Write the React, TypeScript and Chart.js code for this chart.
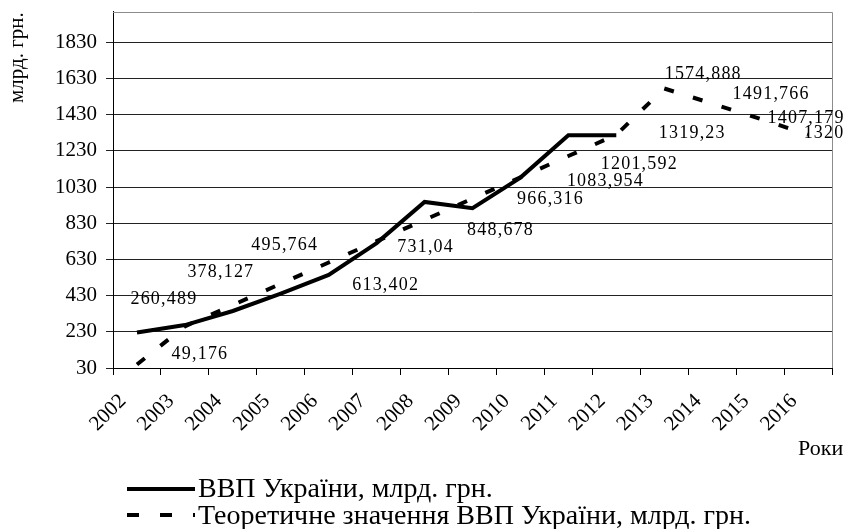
import React, { useEffect, useRef } from 'react';
import { Chart, registerables } from 'chart.js';

Chart.register(...registerables);

const years = ['2002', '2003', '2004', '2005', '2006', '2007', '2008', '2009', '2010', '2011', '2012', '2013', '2014', '2015', '2016'];
const gdpActual = [225.8, 267.3, 345.1, 441.5, 544.2, 720.7, 948.1, 913.3, 1082.6, 1316.6, 1316.6, null, null, null, null];
const gdpTheoretical = [49.176, 260.489, 378.127, 495.764, 613.402, 731.04, 848.678, 966.316, 1083.954, 1201.592, 1319.23, 1574.888, 1491.766, 1407.179, 1320];
const yTicks = [30, 230, 430, 630, 830, 1030, 1230, 1430, 1630, 1830];
const yMin = 30;
const yMax = 2000;
const seriesNames = ['ВВП України, млрд. грн.', 'Теоретичне значення ВВП України, млрд. грн.'];
const yTitle = 'млрд. грн.';
const xTitle = 'Роки';
// data label offsets from their point (px)
const labelDx = [63, -21, -12, 4, 57, 49, 76, 78, 85, 71, 76, 39, 59, 46, 16];
const labelDy = [-10, -27, -33, -38, 23, 6, 10, 1, 4, 8, -1, -14, -9, -1, -1];

const FAMILY = "'Liberation Serif', 'Times New Roman', serif";

const fmt = (v: number) => String(v).replace('.', ',');

const overlay = {
  id: 'overlay',
  afterDraw(chart: any) {
    const { ctx, chartArea } = chart;
    const xScale = chart.scales.x;
    ctx.save();
    // plot border (top, right)
    ctx.strokeStyle = '#8c8c8c';
    ctx.lineWidth = 1;
    ctx.setLineDash([]);
    const t = Math.round(chartArea.top) + 0.5;
    const r = Math.round(chartArea.right) + 0.5;
    ctx.beginPath();
    ctx.moveTo(chartArea.left, t);
    ctx.lineTo(r, t);
    ctx.lineTo(r, chartArea.bottom);
    ctx.stroke();

    // rotated category labels
    ctx.fillStyle = '#000';
    ctx.font = `21px ${FAMILY}`;
    ctx.textAlign = 'right';
    ctx.textBaseline = 'middle';
    years.forEach((yr, i) => {
      const x = xScale.getPixelForValue(i) - 14;
      const y = chartArea.bottom + 30;
      ctx.save();
      ctx.translate(x, y);
      ctx.rotate(-Math.PI / 4);
      ctx.fillText(yr, 0, 0);
      ctx.restore();
    });

    // data labels for the theoretical series
    const meta = chart.getDatasetMeta(1);
    ctx.font = `18px ${FAMILY}`;
    (ctx as any).letterSpacing = '1.2px';
    ctx.textAlign = 'center';
    ctx.textBaseline = 'middle';
    meta.data.forEach((pt: any, i: number) => {
      ctx.fillText(fmt(gdpTheoretical[i]), pt.x + labelDx[i], pt.y + labelDy[i]);
    });
    (ctx as any).letterSpacing = '0px';

    // axis titles
    ctx.font = `21px ${FAMILY}`;
    ctx.textAlign = 'left';
    ctx.textBaseline = 'alphabetic';
    ctx.save();
    ctx.translate(23, 103);
    ctx.rotate(-Math.PI / 2);
    ctx.fillText(yTitle, 0, 0);
    ctx.restore();
    ctx.font = `22px ${FAMILY}`;
    ctx.fillText(xTitle, 798, 455);

    // legend
    ctx.font = `28px ${FAMILY}`;
    ctx.strokeStyle = '#000';
    ctx.lineWidth = 4;
    ctx.lineCap = 'butt';
    ctx.beginPath();
    ctx.moveTo(127, 489);
    ctx.lineTo(195, 489);
    ctx.stroke();
    ctx.fillText(seriesNames[0], 198, 497);
    ctx.setLineDash([12, 21]);
    ctx.beginPath();
    ctx.moveTo(127, 515);
    ctx.lineTo(195, 515);
    ctx.stroke();
    ctx.setLineDash([]);
    ctx.fillText(seriesNames[1], 198, 524);
    ctx.restore();
  },
};

export default function App() {
  const ref = useRef<HTMLCanvasElement | null>(null);
  useEffect(() => {
    if (!ref.current) return;
    const chart = new Chart(ref.current, {
      type: 'line',
      data: {
        labels: years,
        datasets: [
          {
            label: seriesNames[0],
            data: gdpActual,
            borderColor: '#000',
            backgroundColor: '#000',
            borderWidth: 4,
            pointRadius: 0,
            fill: false,
            tension: 0,
          },
          {
            label: seriesNames[1],
            data: gdpTheoretical,
            borderColor: '#000',
            backgroundColor: '#000',
            borderWidth: 4,
            borderDash: [10, 20],
            pointRadius: 0,
            fill: false,
            tension: 0,
          },
        ],
      },
      options: {
        animation: false,
        responsive: false,
        layout: { padding: { top: 11.6, right: 13, left: 0, bottom: 0 } },
        plugins: { legend: { display: false }, tooltip: { enabled: false } },
        scales: {
          x: {
            type: 'category',
            offset: true,
            grid: { offset: true, drawOnChartArea: false, drawTicks: true, tickLength: 7, color: '#000', lineWidth: 1 },
            border: { display: true, color: '#000', width: 1 },
            ticks: { display: false, autoSkip: false },
            afterFit: (s: any) => {
              s.height = 161;
              s.paddingLeft = 0;
              s.paddingRight = 0;
            },
          },
          y: {
            min: yMin,
            max: yMax,
            afterBuildTicks: (s: any) => {
              s.ticks = yTicks.map((v) => ({ value: v }));
            },
            grid: { color: '#222', tickLength: 7, drawTicks: true, lineWidth: 1 },
            border: { display: true, color: '#000', width: 1 },
            ticks: {
              color: '#000',
              font: { family: FAMILY, size: 21 },
              padding: 9,
              callback: (v: any) => String(v),
            },
            afterFit: (s: any) => {
              s.width = 113;
              s.paddingTop = 0;
              s.paddingBottom = 0;
            },
          },
        },
      },
      plugins: [overlay],
    } as any);
    return () => chart.destroy();
  }, []);
  return (
    <div style={{ position: 'absolute', left: 0, top: 0, width: 845, height: 529, background: '#fff' }}>
      <canvas ref={ref} width={845} height={529} style={{ display: 'block' }} />
    </div>
  );
}
